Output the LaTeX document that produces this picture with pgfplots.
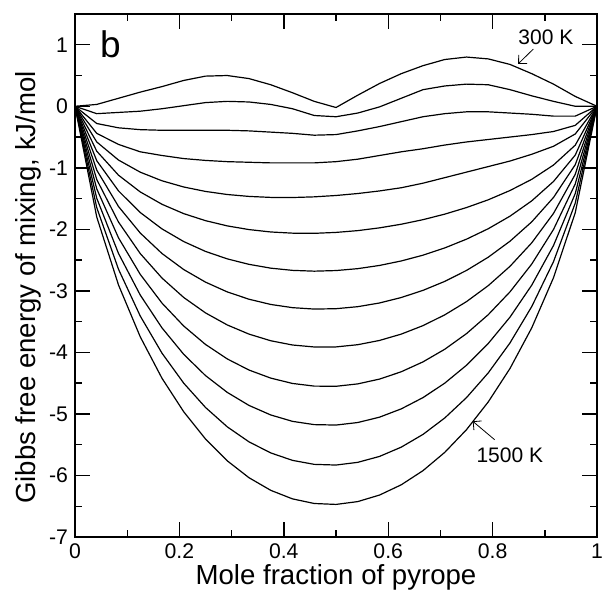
\documentclass[border=0pt]{standalone}
\usepackage{pgfplots}
\pgfplotsset{compat=1.18}
\usepackage{pgfplotstable}
\usepackage{fontspec}
\setmainfont{Liberation Sans}
\usetikzlibrary{arrows.meta}

% Gibbs free energy of mixing (kJ/mol), one column per temperature
\pgfplotstableread{
x        t300  t400  t500  t600  t700   t800   t900   t1000  t1100  t1200  t1300  t1400  t1500
0        0     0     0     0     0      0      0      0      0      0      0      0      0
0.041667 0.03  -0.12 -0.28 -0.44 -0.58  -0.730 -0.885 -1.037 -1.190 -1.342 -1.495 -1.647 -1.800
0.083333 0.13  -0.10 -0.35 -0.62 -0.874 -1.120 -1.375 -1.629 -1.882 -2.138 -2.392 -2.649 -2.904
0.125    0.23  -0.08 -0.38 -0.74 -1.071 -1.392 -1.727 -2.060 -2.394 -2.732 -3.068 -3.409 -3.747
0.166667 0.32  -0.04 -0.39 -0.80 -1.211 -1.593 -1.993 -2.393 -2.792 -3.199 -3.602 -4.013 -4.421
0.208333 0.42  0.01  -0.39 -0.85 -1.312 -1.745 -2.199 -2.654 -3.108 -3.572 -4.032 -4.501 -4.966
0.25     0.49  0.06  -0.39 -0.88 -1.384 -1.859 -2.359 -2.858 -3.358 -3.871 -4.377 -4.895 -5.408
0.291667 0.50  0.08  -0.39 -0.90 -1.434 -1.944 -2.480 -3.017 -3.554 -4.106 -4.650 -5.210 -5.762
0.333333 0.45  0.07  -0.40 -0.91 -1.465 -2.004 -2.569 -3.136 -3.703 -4.287 -4.862 -5.454 -6.037
0.375    0.35  0.03  -0.42 -0.92 -1.481 -2.043 -2.631 -3.221 -3.811 -4.418 -5.017 -5.634 -6.242
0.416667 0.22  -0.04 -0.44 -0.92 -1.483 -2.062 -2.667 -3.273 -3.880 -4.505 -5.121 -5.755 -6.381
0.458333 0.08  -0.15 -0.47 -0.92 -1.472 -2.065 -2.680 -3.296 -3.912 -4.548 -5.174 -5.820 -6.456
0.5      -0.02 -0.17 -0.46 -0.90 -1.450 -2.050 -2.670 -3.290 -3.911 -4.551 -5.181 -5.831 -6.471
0.541667 0.18  -0.11 -0.40 -0.86 -1.418 -2.021 -2.639 -3.257 -3.875 -4.512 -5.140 -5.787 -6.425
0.583333 0.37  -0.01 -0.33 -0.80 -1.376 -1.976 -2.587 -3.197 -3.806 -4.434 -5.053 -5.691 -6.319
0.625    0.53  0.13  -0.25 -0.74 -1.324 -1.917 -2.514 -3.108 -3.703 -4.315 -4.918 -5.540 -6.152
0.666667 0.66  0.27  -0.17 -0.69 -1.250 -1.843 -2.420 -2.992 -3.565 -4.154 -4.735 -5.333 -5.922
0.708333 0.76  0.33  -0.12 -0.63 -1.160 -1.753 -2.302 -2.846 -3.390 -3.949 -4.500 -5.066 -5.625
0.75     0.80  0.36  -0.09 -0.58 -1.070 -1.646 -2.160 -2.668 -3.175 -3.695 -4.209 -4.735 -5.256
0.791667 0.77  0.35  -0.09 -0.54 -0.980 -1.520 -1.990 -2.453 -2.915 -3.387 -3.855 -4.333 -4.805
0.833333 0.68  0.27  -0.11 -0.50 -0.890 -1.369 -1.786 -2.193 -2.601 -3.016 -3.427 -3.846 -4.261
0.875    0.53  0.17  -0.13 -0.46 -0.780 -1.187 -1.537 -1.878 -2.219 -2.564 -2.907 -3.255 -3.601
0.916667 0.36  0.08  -0.16 -0.41 -0.650 -0.955 -1.222 -1.482 -1.741 -2.002 -2.263 -2.525 -2.786
0.958333 0.16  0.00  -0.16 -0.31 -0.450 -0.632 -0.793 -0.949 -1.106 -1.262 -1.418 -1.573 -1.729
1        0     0     0     0     0      0      0      0      0      0      0      0      0
}\gibbs

\begin{document}
\begin{tikzpicture}
\begin{axis}[
    scale only axis,
    width=261pt, height=261.5pt,
    xmin=0, xmax=1, ymin=-7, ymax=1.5,
    xtick={0,0.2,0.4,0.6,0.8,1},
    ytick={-7,-6,-5,-4,-3,-2,-1,0,1},
    minor x tick num=1, minor y tick num=1,
    tick align=inside,
    major tick length=7.5pt, minor tick length=3.5pt,
    every tick/.style={black, line width=0.7pt},
    axis line style={line width=0.9pt},
    /pgf/number format/assume math mode=true,
    tick label style={font=\fontsize{10.6}{12}\selectfont},
]
\pgfplotsinvokeforeach{300,400,...,1500}{
  \addplot[black, line width=0.6pt] table[x=x, y=t#1] {\gibbs};
}
\coordinate (sw) at (rel axis cs:0,0);
\coordinate (ne) at (rel axis cs:1,1);
\coordinate (yl) at (rel axis cs:0,0.5);
\coordinate (xl) at (rel axis cs:0.5,0);
\node[font=\fontsize{18.5}{20}\selectfont] at (axis cs:0.068,1.0) {b};
\node[font=\fontsize{10.5}{12}\selectfont] at (axis cs:0.902,1.12) {300 K};
\draw[-{Straight Barb[length=3pt]}, line width=0.4pt] (axis cs:0.878,0.93) -- (axis cs:0.849,0.69);
\node[font=\fontsize{10.5}{12}\selectfont] at (axis cs:0.833,-5.67) {1500 K};
\draw[-{Straight Barb[length=3pt]}, line width=0.4pt] (axis cs:0.804,-5.42) -- (axis cs:0.762,-5.12);
\end{axis}
\node[font=\fontsize{13.8}{16}\selectfont, rotate=90] at ([shift={(-23.5pt,-6pt)}]yl) {Gibbs free energy of mixing, kJ/mol};
\node[font=\fontsize{13.8}{16}\selectfont] at ([yshift=-20pt]xl) {Mole fraction of pyrope};
\pgfresetboundingbox
\path[use as bounding box] ([shift={(-37.5pt,-27.5pt)}]sw) rectangle ([shift={(4pt,7pt)}]ne);
\end{tikzpicture}
\end{document}
